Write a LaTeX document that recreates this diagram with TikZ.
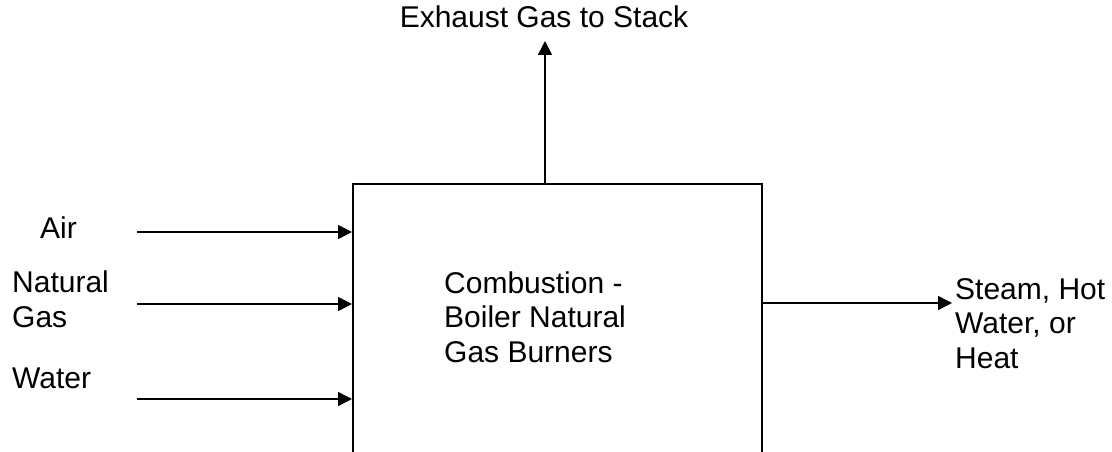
\documentclass[tikz,border=0pt]{standalone}
\usepackage{fontspec}
\setmainfont{Liberation Sans}
\usetikzlibrary{positioning, arrows.meta}

\begin{document}
\begin{tikzpicture}[
    x=1pt, y=-1pt,
    box/.style={
        draw,
        line width=1.5pt,
        minimum width=409pt,
        minimum height=330pt,
        inner sep=0pt
    },
    lbl/.style={
        inner sep=0pt,
        align=left,
        font=\fontsize{30}{34.5}\selectfont
    },
    arrow/.style={-{Triangle[length=14pt, width=14pt]}, line width=1.5pt}
]

\useasboundingbox (0,0) rectangle (1112,452);
\clip (0,0) rectangle (1112,452);

\node[box, anchor=north west] (boiler) at (352,183) {};
\node[lbl, anchor=base west] (burners) at (444,362) {Combustion -\\Boiler Natural\\Gas Burners};

% inputs
\node[lbl, anchor=base west] (air) at (40,238) {Air};
\node[lbl, anchor=base west] (gas) at (12,327) {Natural\\Gas};
\node[lbl, anchor=base west] (water) at (12,388) {Water};
\coordinate (air in) at (137,232);
\coordinate (gas in) at (137,304);
\coordinate (water in) at (137,399);

% outputs
\node[lbl, anchor=base] (exhaust) at (544,28) {Exhaust Gas to Stack};
\node[lbl, anchor=base west] (steam) at (955,368) {Steam, Hot\\Water, or\\Heat};
\coordinate (stack) at (545,41);
\coordinate (steam out) at (952,303);

\draw[arrow] (air in) -- (air in -| boiler.west);
\draw[arrow] (gas in) -- (gas in -| boiler.west);
\draw[arrow] (water in) -- (water in -| boiler.west);
\draw[arrow] (stack |- boiler.north) -- (stack);
\draw[arrow] (steam out -| boiler.east) -- (steam out);

\end{tikzpicture}
\end{document}
